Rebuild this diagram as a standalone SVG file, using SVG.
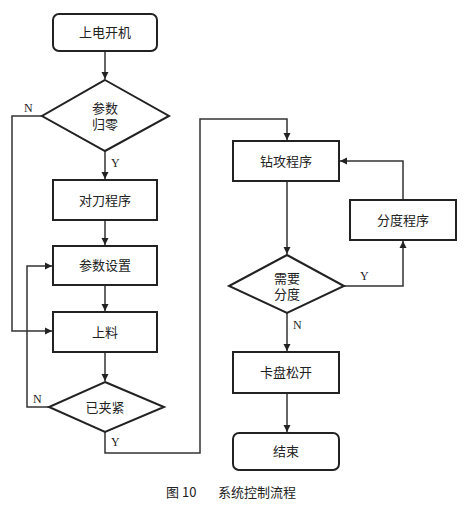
<svg xmlns="http://www.w3.org/2000/svg" width="467" height="505" viewBox="0 0 467 505">
<style>
.box{fill:#fff;stroke:#222;stroke-width:2}
.ln{fill:none;stroke:#333;stroke-width:1.5}
.t{font-family:"Liberation Serif","Noto Sans CJK SC",serif;font-size:13px;fill:#222;text-anchor:middle}
.lb{font-family:"Liberation Serif",serif;font-size:12px;fill:#222}
.cap{font-family:"Noto Sans CJK SC","Liberation Sans",sans-serif;font-size:13px;fill:#222}
</style>
<defs>
<marker id="a" markerWidth="8" markerHeight="8" refX="7" refY="4" orient="auto" markerUnits="userSpaceOnUse">
<path d="M0,0.5 L7,4 L0,7.5 Z" fill="#222"/>
</marker>
</defs>
<rect width="467" height="505" fill="#fff"/>
<g id="connectors">
<path class="ln" d="M105,50 V79" marker-end="url(#a)"/>
<path class="ln" d="M105,151 V179" marker-end="url(#a)"/>
<path class="ln" d="M105,220 V245" marker-end="url(#a)"/>
<path class="ln" d="M105,285 V311" marker-end="url(#a)"/>
<path class="ln" d="M105,352 V381" marker-end="url(#a)"/>
<path class="ln" d="M42,116 H12 V331 H52" marker-end="url(#a)"/>
<path class="ln" d="M49,407 H27 V266 H52" marker-end="url(#a)"/>
<path class="ln" d="M105,432 V453 H200 V119 H287 V140" marker-end="url(#a)"/>
<path class="ln" d="M287,181 V254" marker-end="url(#a)"/>
<path class="ln" d="M344,286 H403 V241" marker-end="url(#a)"/>
<path class="ln" d="M403,200 V161 H340" marker-end="url(#a)"/>
<path class="ln" d="M287,313 V351" marker-end="url(#a)"/>
<path class="ln" d="M287,393 V432" marker-end="url(#a)"/>
<text class="lb" x="24" y="112">N</text>
<text class="lb" x="111" y="167">Y</text>
<text class="lb" x="33" y="403">N</text>
<text class="lb" x="111" y="446">Y</text>
<text class="lb" x="360" y="280">Y</text>
<text class="lb" x="293" y="329">N</text>
</g>
<g id="n1"><rect class="box" x="53" y="14" width="104" height="37" rx="6"/><text class="t" x="105" y="37">上电开机</text></g>
<g id="n2"><polygon class="box" points="105,80 169,116 105,151 42,116"/><text class="t" x="105" y="113">参数</text><text class="t" x="105" y="129">归零</text></g>
<g id="n3"><rect class="box" x="53" y="180" width="104" height="40"/><text class="t" x="105" y="205">对刀程序</text></g>
<g id="n4"><rect class="box" x="53" y="246" width="104" height="39"/><text class="t" x="105" y="270">参数设置</text></g>
<g id="n5"><rect class="box" x="53" y="312" width="104" height="40"/><text class="t" x="105" y="337">上料</text></g>
<g id="n6"><polygon class="box" points="105,382 164,407 105,432 49,407"/><text class="t" x="105" y="412">已夹紧</text></g>
<g id="n7"><rect class="box" x="233" y="141" width="106" height="40"/><text class="t" x="286" y="166">钻攻程序</text></g>
<g id="n8"><rect class="box" x="350" y="200" width="106" height="40"/><text class="t" x="403" y="225">分度程序</text></g>
<g id="n9"><polygon class="box" points="287,255 344,286 287,313 229,286"/><text class="t" x="287" y="283">需要</text><text class="t" x="287" y="299">分度</text></g>
<g id="n10"><rect class="box" x="233" y="352" width="106" height="41"/><text class="t" x="286" y="377">卡盘松开</text></g>
<g id="n11"><rect class="box" x="233" y="433" width="106" height="37" rx="6"/><text class="t" x="286" y="456">结束</text></g>
<text class="cap" x="166" y="497">图 10</text>
<text class="cap" x="218" y="497">系统控制流程</text>
</svg>
